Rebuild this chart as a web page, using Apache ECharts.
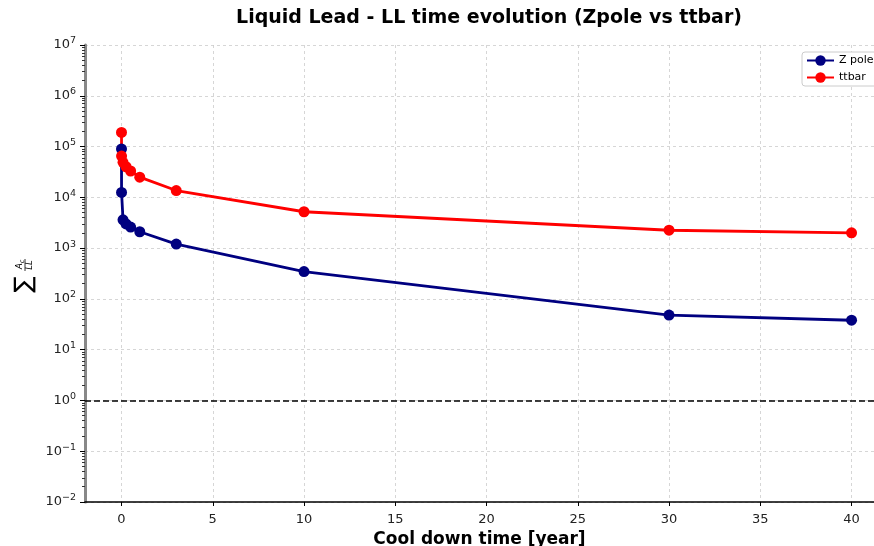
<!DOCTYPE html>
<html>
<head>
<meta charset="utf-8">
<script src="https://cdn.jsdelivr.net/npm/echarts@6/dist/echarts.min.js"></script>
<style>
  html, body { margin: 0; padding: 0; background: #fff; }
  #chart { width: 874px; height: 546px; }
</style>
</head>
<body>
<div id="chart"></div>
<script>
// cool down time [year]
var coolTimes = [0, 1 / 365, 1 / 12, 0.25, 0.5, 1, 3, 10, 30, 40];
// sum of A_c / LL
var zpoleLL = [9.0e4, 1.25e4, 3.6e3, 3.0e3, 2.6e3, 2.1e3, 1.2e3, 345, 48, 38];
var ttbarLL = [1.9e5, 6.5e4, 4.9e4, 4.0e4, 3.3e4, 2.5e4, 1.36e4, 5.2e3, 2.25e3, 2.0e3];

var xTicks = [0, 5, 10, 15, 20, 25, 30, 35, 40];
var yTicks = [1e-2, 1e-1, 1e0, 1e1, 1e2, 1e3, 1e4, 1e5, 1e6, 1e7];

// minor log ticks 2..9 per decade
var yMinorTicks = [];
for (var e = -2; e < 7; e++) {
  for (var m = 2; m < 10; m++) {
    yMinorTicks.push(m * Math.pow(10, e));
  }
}

var font = "DejaVu Sans";

function pairs(xs, ys) {
  return xs.map(function (x, i) { return [x, ys[i]]; });
}

var chart = echarts.init(document.getElementById("chart"));

chart.setOption({
  animation: false,
  backgroundColor: "#fff",
  title: {
    text: "Liquid Lead - LL time evolution (Zpole vs ttbar)",
    left: 484,
    top: 4,
    textAlign: "center",
    textStyle: { fontFamily: font, fontSize: 19, fontWeight: "bold", color: "#000" }
  },
  legend: {
    left: 802,
    top: 52,
    orient: "vertical",
    padding: [3, 4, 3, 4],
    itemWidth: 27,
    itemHeight: 13,
    itemGap: 6,
    backgroundColor: "#fff",
    borderColor: "#ccc",
    borderWidth: 1,
    borderRadius: 3,
    textStyle: { fontFamily: font, fontSize: 11, color: "#000" },
    data: ["Z pole", "ttbar"]
  },
  grid: { left: 85, right: 0, top: 45, bottom: 44, outerBoundsMode: "none" },
  xAxis: {
    type: "value",
    min: -2,
    max: 41.23,
    name: "Cool down time [year]",
    nameLocation: "middle",
    nameGap: 27,
    nameTextStyle: { fontFamily: font, fontSize: 17, fontWeight: "bold", color: "#000" },
    axisLine: { onZero: false, lineStyle: { color: "#000", width: 1.5 } },
    axisTick: { customValues: xTicks, length: 4, lineStyle: { color: "#000" } },
    axisLabel: {
      customValues: xTicks,
      margin: 11,
      fontFamily: font, fontSize: 13, color: "#222"
    },
    splitLine: { show: true, lineStyle: { color: "#ccc", type: [3, 3], width: 0.8 } }
  },
  yAxis: [
    {
      type: "log",
      logBase: 10,
      min: 1e-2,
      max: 1e7,
      position: "left",
      axisLine: { onZero: false, lineStyle: { color: "#888", width: 3 } },
      axisTick: { customValues: yTicks, length: 5, lineStyle: { color: "#000" } },
      axisLabel: {
        customValues: yTicks,
        margin: 9,
        formatter: function (v) {
          var ex = Math.round(Math.log10(v));
          return "{b|10}{e|" + (ex < 0 ? "\u2212" + (-ex) : ex) + "}";
        },
        rich: {
          b: { fontFamily: font, fontSize: 13, color: "#222", lineHeight: 18 },
          e: { fontFamily: font, fontSize: 9.5, color: "#222", lineHeight: 10, verticalAlign: "top" }
        }
      },
      splitLine: { show: true, lineStyle: { color: "#ccc", type: [3, 3], width: 0.8 } }
    },
    {
      type: "log",
      logBase: 10,
      min: 1e-2,
      max: 1e7,
      position: "left",
      axisLine: { show: false, onZero: false },
      axisLabel: { show: false },
      splitLine: { show: false },
      axisTick: { customValues: yMinorTicks, length: 3, lineStyle: { color: "#333", width: 1 } }
    }
  ],
  graphic: [
    {
      type: "group",
      x: 24,
      y: 275,
      rotation: Math.PI / 2,
      children: [
        {
          type: "text",
          x: -9.5, y: 1,
          style: { text: "\u2211", fontFamily: font, fontSize: 24, fill: "#000", align: "center", verticalAlign: "middle" }
        },
        {
          type: "text",
          x: 9, y: -4,
          style: { text: "A", fontFamily: font, fontSize: 8.5, fontStyle: "italic", fill: "#000", align: "center", verticalAlign: "middle" }
        },
        {
          type: "text",
          x: 13.5, y: -2,
          style: { text: "c", fontFamily: font, fontSize: 6.5, fontStyle: "italic", fill: "#000", align: "center", verticalAlign: "middle" }
        },
        {
          type: "line",
          shape: { x1: 4, y1: 1, x2: 16, y2: 1 },
          style: { stroke: "#000", lineWidth: 0.8 }
        },
        {
          type: "text",
          x: 10, y: 6,
          style: { text: "LL", fontFamily: font, fontSize: 8.5, fontStyle: "italic", fill: "#000", align: "center", verticalAlign: "middle" }
        }
      ]
    }
  ],
  series: [
    {
      name: "Z pole",
      type: "line",
      data: pairs(coolTimes, zpoleLL),
      symbol: "circle",
      symbolSize: 11,
      lineStyle: { color: "#000080", width: 2.8 },
      itemStyle: { color: "#000080" },
      markLine: {
        silent: true,
        symbol: "none",
        label: { show: false },
        lineStyle: { color: "#000", type: [6, 3], width: 1.5 },
        data: [{ yAxis: 1 }]
      }
    },
    {
      name: "ttbar",
      type: "line",
      data: pairs(coolTimes, ttbarLL),
      symbol: "circle",
      symbolSize: 11,
      lineStyle: { color: "#ff0000", width: 2.8 },
      itemStyle: { color: "#ff0000" }
    }
  ]
});
</script>
</body>
</html>
